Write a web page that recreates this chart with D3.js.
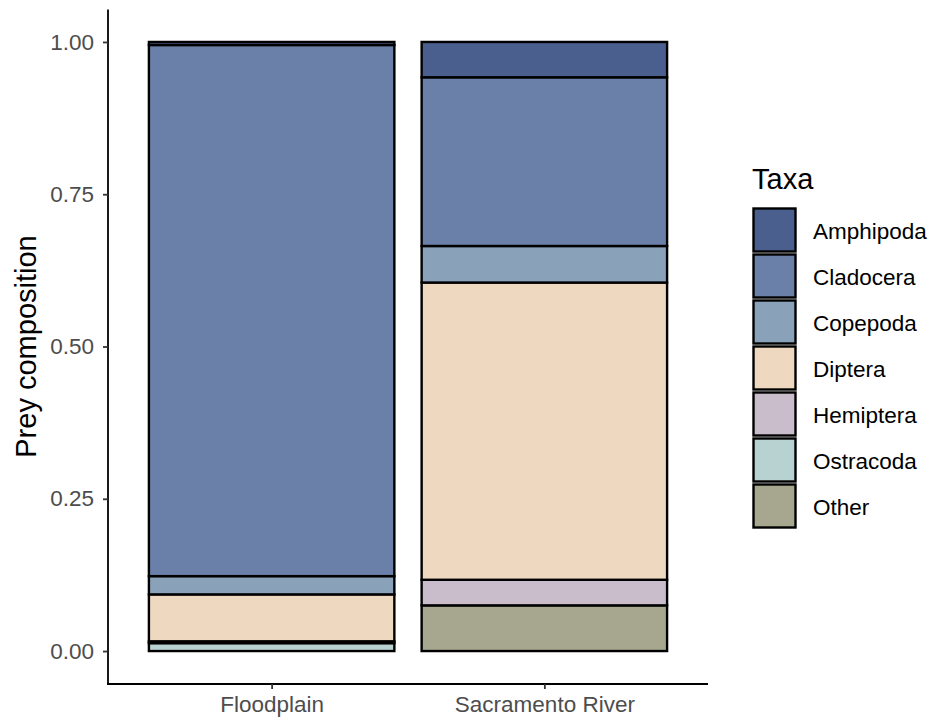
<!DOCTYPE html>
<html><head><meta charset="utf-8">
<script src="https://cdn.jsdelivr.net/npm/d3@7"></script>
<style>body{margin:0;background:#fff;} text{font-family:Arial,"Liberation Sans",sans-serif;}</style>
</head><body>
<svg id="chart" width="940" height="717"></svg>
<script>
const sites = ["Floodplain", "Sacramento River"];
const taxa = ["Amphipoda", "Cladocera", "Copepoda", "Diptera", "Hemiptera", "Ostracoda", "Other"];
const colors = ["#4a5f8d", "#6a80a8", "#8aa2b9", "#efd8c0", "#c9bdcc", "#b8d1d1", "#a6a78e"];
// proportions per taxon, [Floodplain, Sacramento River]
const amphipoda = [0.005, 0.058];
const cladocera = [0.872, 0.277];
const copepoda  = [0.030, 0.060];
const diptera   = [0.077, 0.488];
const hemiptera = [0.003, 0.042];
const ostracoda = [0.013, 0.000];
const other     = [0.000, 0.075];
const yTicks = [0, 0.25, 0.5, 0.75, 1];
const yTickLabels = ["0.00", "0.25", "0.50", "0.75", "1.00"];

const seriesVals = [amphipoda, cladocera, copepoda, diptera, hemiptera, ostracoda, other];
const rows = sites.map((s, i) => {
  const r = {site: s};
  taxa.forEach((t, j) => r[t] = seriesVals[j][i]);
  return r;
});

const svg = d3.select("#chart");
const pLeft = 108, pRight = 708, pTop = 11.5, pBottom = 681.5;
const FONT = "Arial, 'Liberation Sans', sans-serif";

// emulate ggplot discrete scale: categories at 1,2 with limits 0.4..2.6, bar width 0.9
const x = d3.scaleLinear().domain([0.4, 2.6]).range([pLeft, pRight]);
const xc = s => x(1 + sites.indexOf(s));
const barW = x(1.9) - x(1);

const y = d3.scaleLinear().domain([-0.05, 1.05]).range([pBottom, pTop]);

// stack: reversed order so Other at bottom, Amphipoda at top
const stack = d3.stack().keys(taxa.slice().reverse());
const series = stack(rows);
const color = d3.scaleOrdinal().domain(taxa).range(colors);

const g = svg.append("g");
series.forEach(sr => {
  g.selectAll(null).data(sr).enter().append("rect")
    .attr("x", d => xc(d.data.site) - barW / 2)
    .attr("width", barW)
    .attr("y", d => y(d[1]))
    .attr("height", d => Math.max(0, y(d[0]) - y(d[1])))
    .attr("fill", color(sr.key))
    .attr("stroke", d => (d[1] - d[0]) > 0 ? "#000" : "none")
    .attr("stroke-width", 2.4);
});

// axes
const yAxis = d3.axisLeft(y).tickValues(yTicks).tickFormat((d, i) => yTickLabels[i]).tickSize(5).tickPadding(9);
const ya = svg.append("g").attr("transform", `translate(${pLeft},0)`).call(yAxis);
ya.select(".domain").attr("d", `M0,${pTop - 2}V${pBottom + 2.5}`).attr("stroke", "#000").attr("stroke-width", 1.8);
ya.selectAll(".tick line").attr("stroke", "#333").attr("stroke-width", 1.8);
ya.selectAll(".tick text").attr("font-size", 22.5).attr("fill", "#4d4d4d").style("font-family", FONT);

const xScaleAxis = d3.scaleOrdinal().domain(sites).range(sites.map(xc));
const xAxis = d3.axisBottom(xScaleAxis).tickSize(5).tickPadding(7);
const xa = svg.append("g").attr("transform", `translate(0,${pBottom + 2.5})`).call(xAxis);
xa.select(".domain").attr("d", `M${pLeft - 1},0H${pRight}`).attr("stroke", "#000").attr("stroke-width", 1.8);
xa.selectAll(".tick line").attr("stroke", "#333").attr("stroke-width", 1.8);
xa.selectAll(".tick text").attr("font-size", 22.5).attr("fill", "#4d4d4d").style("font-family", FONT);

// y title
svg.append("text").attr("transform", `translate(36,${(pTop + pBottom) / 2}) rotate(-90)`)
  .attr("text-anchor", "middle").attr("font-size", 29).attr("fill", "#000").text("Prey composition");

// legend
const lg = svg.append("g").attr("transform", "translate(752,0)");
lg.append("text").attr("x", 0).attr("y", 189).attr("font-size", 29).attr("fill", "#000").text("Taxa");
taxa.forEach((t, i) => {
  const yy = 207 + i * 46;
  lg.append("rect").attr("x", 1.5).attr("y", yy + 1.5).attr("width", 42).attr("height", 43)
    .attr("fill", colors[i]).attr("stroke", "#000").attr("stroke-width", 2.4);
  lg.append("text").attr("x", 61).attr("y", yy + 23 + 9)
    .attr("font-size", 22.5).attr("fill", "#000").text(t);
});
</script>
</body></html>
